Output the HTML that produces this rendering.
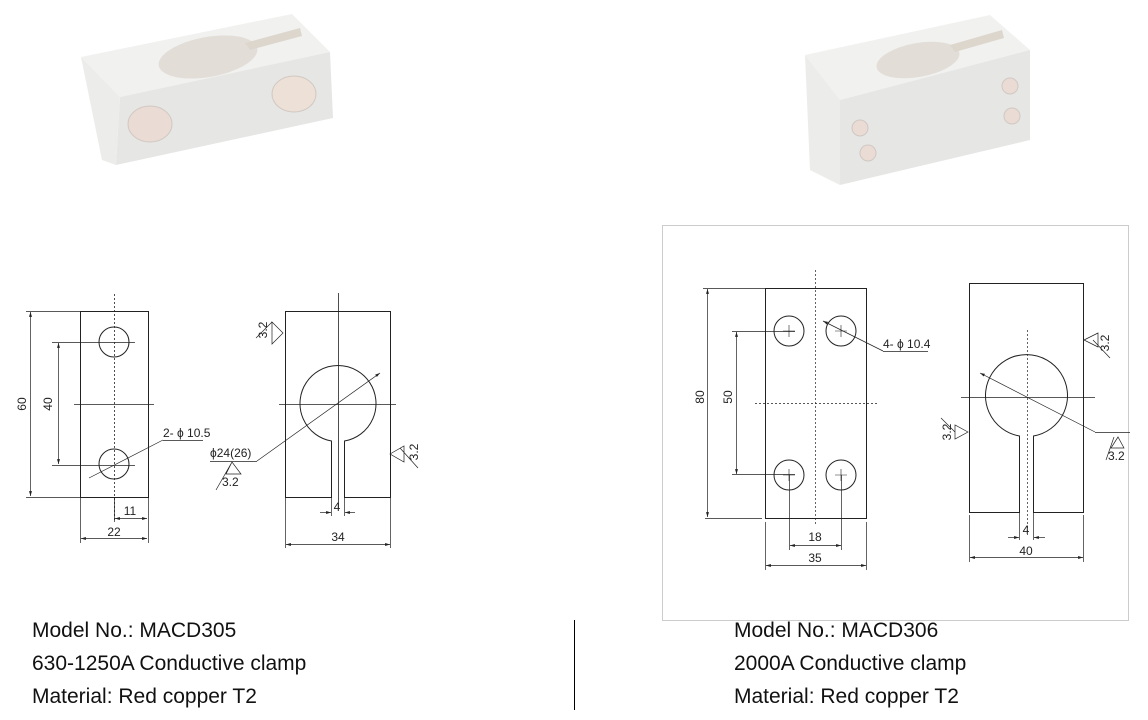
<!DOCTYPE html>
<html><head><meta charset="utf-8"><style>
html,body{margin:0;padding:0;background:#fff;width:1148px;height:720px;overflow:hidden}
svg{position:absolute;left:0;top:0}
.t{position:absolute;font-family:"Liberation Sans",sans-serif;font-size:21px;color:#111;white-space:nowrap}
</style></head><body>
<svg width="1148" height="720" viewBox="0 0 1148 720" font-family="Liberation Sans, sans-serif" font-size="12" fill="none" stroke="#222" stroke-width="1">
<defs><marker id="a" viewBox="0 0 10 10" refX="10" refY="5" markerWidth="7" markerHeight="7" orient="auto-start-reverse"><path d="M0,2 L10,5 L0,8 Z" fill="#222" stroke="none"/></marker></defs>
<!-- photo 1 -->
<polygon points="81,57 292,14 330,52 120,97" fill="#f1f1f0" stroke="none"/>
<polygon points="120,97 330,52 333,118 116,165" fill="#e6e6e5" stroke="none"/>
<polygon points="81,57 120,97 116,165 102,160" fill="#ececeb" stroke="none"/>
<ellipse cx="208" cy="57" rx="50" ry="20" fill="#e2ddd7" stroke="none" transform="rotate(-10 208 57)"/>
<polygon points="245,43 300,28 302,36 250,50" fill="#ddd6cd" stroke="none"/>
<ellipse cx="150" cy="124" rx="22" ry="18" fill="#eadbd4" stroke="#d0c8c2"/>
<ellipse cx="294" cy="94" rx="22" ry="18" fill="#ede0d6" stroke="#d0c8c2"/>
<!-- photo 2 -->
<polygon points="805,55 990,15 1030,50 840,100" fill="#f1f1f0" stroke="none"/>
<polygon points="840,100 1030,50 1030,140 840,185" fill="#e6e6e5" stroke="none"/>
<polygon points="805,55 840,100 840,185 810,170" fill="#ececeb" stroke="none"/>
<ellipse cx="918" cy="60" rx="42" ry="17" fill="#e2ddd7" stroke="none" transform="rotate(-10 918 60)"/>
<polygon points="950,45 1002,30 1004,38 955,52" fill="#ddd6cd" stroke="none"/>
<circle cx="860" cy="128" r="8" fill="#eadbd4" stroke="#d0c8c2"/>
<circle cx="868" cy="153" r="8" fill="#eadbd4" stroke="#d0c8c2"/>
<circle cx="1010" cy="86" r="8" fill="#eadbd4" stroke="#d0c8c2"/>
<circle cx="1012" cy="116" r="8" fill="#eadbd4" stroke="#d0c8c2"/>
<!-- right frame -->
<rect x="662.5" y="225.5" width="466" height="395" stroke="#ccc"/>
<line x1="574.5" y1="620" x2="574.5" y2="710" stroke="#000"/>

<!-- drawing 1 left -->
<rect x="80.5" y="311.5" width="68" height="186"/>
<line x1="114.5" y1="294" x2="114.5" y2="520" stroke-dasharray="2,2" stroke-width="0.8"/>
<line x1="74" y1="404.5" x2="154" y2="404.5" stroke-width="0.8"/>
<circle cx="114" cy="342" r="15"/><circle cx="114" cy="464" r="15"/>
<line x1="52" y1="342.5" x2="135" y2="342.5" stroke-width="0.7"/>
<line x1="52" y1="465.5" x2="135" y2="465.5" stroke-width="0.7"/>
<line x1="26" y1="311.5" x2="80" y2="311.5" stroke-width="0.7"/>
<line x1="26" y1="497.5" x2="80" y2="497.5" stroke-width="0.7"/>
<line x1="30.5" y1="312" x2="30.5" y2="496" stroke-width="0.7" marker-start="url(#a)" marker-end="url(#a)"/>
<line x1="58.5" y1="343" x2="58.5" y2="464" stroke-width="0.7" marker-start="url(#a)" marker-end="url(#a)"/>
<line x1="89" y1="478" x2="163" y2="440" stroke-width="0.7"/>
<line x1="163" y1="440.5" x2="203" y2="440.5" stroke-width="0.7"/>
<line x1="114.5" y1="497" x2="114.5" y2="522" stroke-width="0.7"/>
<line x1="148.5" y1="497" x2="148.5" y2="543" stroke-width="0.7"/>
<line x1="80.5" y1="497" x2="80.5" y2="543" stroke-width="0.7"/>
<line x1="115" y1="518.5" x2="147" y2="518.5" stroke-width="0.7" marker-start="url(#a)" marker-end="url(#a)"/>
<line x1="81" y1="538.5" x2="147" y2="538.5" stroke-width="0.7" marker-start="url(#a)" marker-end="url(#a)"/>
<g fill="#222" stroke="none">
<text x="22" y="408" transform="rotate(-90 22 404)" text-anchor="middle">60</text>
<text x="48" y="408" transform="rotate(-90 48 404)" text-anchor="middle">40</text>
<text x="163" y="437">2- ϕ 10.5</text>
<text x="130" y="515" text-anchor="middle">11</text>
<text x="114" y="536" text-anchor="middle">22</text>
</g>
<!-- drawing 1 right -->
<path d="M285.5,311.5 H390.5 V497.5 H344.5 V441 A38 38 0 1 0 331.5 441 V497.5 H285.5 Z"/>
<line x1="338.5" y1="293" x2="338.5" y2="508" stroke-width="0.8"/>
<line x1="279" y1="404.5" x2="396" y2="404.5" stroke-width="0.8"/>
<line x1="257" y1="461" x2="380" y2="373" stroke-width="0.7" marker-end="url(#a)"/>
<line x1="210" y1="461.5" x2="257" y2="461.5" stroke-width="0.7"/>
<path d="M232,462 L226,474 L241,474 Z M216,490 L232,462" stroke-width="0.7"/>
<path d="M256,338 L272,322 M272,322 L283,333 L272,344 Z" stroke-width="0.7"/>
<path d="M418,468 L400,448 M390,454 L404,446 L404,462 Z" stroke-width="0.7"/>
<line x1="331.5" y1="497" x2="331.5" y2="516" stroke-width="0.7"/>
<line x1="344.5" y1="497" x2="344.5" y2="516" stroke-width="0.7"/>
<line x1="320" y1="512.5" x2="331" y2="512.5" stroke-width="0.7" marker-end="url(#a)"/>
<line x1="355" y1="512.5" x2="345" y2="512.5" stroke-width="0.7" marker-end="url(#a)"/>
<line x1="285.5" y1="497" x2="285.5" y2="548" stroke-width="0.7"/>
<line x1="390.5" y1="497" x2="390.5" y2="548" stroke-width="0.7"/>
<line x1="286" y1="544.5" x2="390" y2="544.5" stroke-width="0.7" marker-start="url(#a)" marker-end="url(#a)"/>
<g fill="#222" stroke="none">
<text x="210" y="457">ϕ24(26)</text>
<text x="222" y="486">3.2</text>
<text x="263" y="334" transform="rotate(-90 263 330)" text-anchor="middle">3.2</text>
<text x="414" y="456" transform="rotate(-90 414 452)" text-anchor="middle">3.2</text>
<text x="337" y="511" text-anchor="middle">4</text>
<text x="338" y="541" text-anchor="middle">34</text>
</g>

<!-- drawing 2 left -->
<rect x="765.5" y="288.5" width="101" height="230"/>
<line x1="815.5" y1="270" x2="815.5" y2="525" stroke-dasharray="2,2" stroke-width="0.7"/>
<line x1="755" y1="403.5" x2="877" y2="403.5" stroke-dasharray="2,2" stroke-width="0.7"/>
<circle cx="789" cy="331" r="15"/><circle cx="841" cy="331" r="15"/>
<circle cx="789" cy="475" r="15"/><circle cx="841" cy="475" r="15"/>
<path d="M783,331H795M789,325V337M835,331H847M841,325V337M783,475H795M789,469V481M835,475H847M841,469V481" stroke-width="0.6"/>
<line x1="703" y1="288.5" x2="765" y2="288.5" stroke-width="0.7"/>
<line x1="705" y1="518.5" x2="762" y2="518.5" stroke-width="0.7"/>
<line x1="707.5" y1="289" x2="707.5" y2="517" stroke-width="0.7" marker-start="url(#a)" marker-end="url(#a)"/>
<line x1="732" y1="331.5" x2="795" y2="331.5" stroke-width="0.7"/>
<line x1="732" y1="474.5" x2="795" y2="474.5" stroke-width="0.7"/>
<line x1="736.5" y1="332" x2="736.5" y2="474" stroke-width="0.7" marker-start="url(#a)" marker-end="url(#a)"/>
<line x1="823" y1="321" x2="883" y2="351" stroke-width="0.7" marker-start="url(#a)"/>
<line x1="883" y1="351.5" x2="928" y2="351.5" stroke-width="0.7"/>
<line x1="789.5" y1="475" x2="789.5" y2="550" stroke-width="0.7"/>
<line x1="841.5" y1="475" x2="841.5" y2="550" stroke-width="0.7"/>
<line x1="790" y1="545.5" x2="841" y2="545.5" stroke-width="0.7" marker-start="url(#a)" marker-end="url(#a)"/>
<line x1="765.5" y1="522" x2="765.5" y2="570" stroke-width="0.7"/>
<line x1="866.5" y1="522" x2="866.5" y2="570" stroke-width="0.7"/>
<line x1="766" y1="565.5" x2="866" y2="565.5" stroke-width="0.7" marker-start="url(#a)" marker-end="url(#a)"/>
<g fill="#222" stroke="none">
<text x="700" y="401" transform="rotate(-90 700 397)" text-anchor="middle">80</text>
<text x="728" y="401" transform="rotate(-90 728 397)" text-anchor="middle">50</text>
<text x="883" y="348">4- ϕ 10.4</text>
<text x="815" y="541" text-anchor="middle">18</text>
<text x="815" y="562" text-anchor="middle">35</text>
</g>
<!-- drawing 2 right -->
<path d="M969.5,283.5 H1083.5 V512.5 H1033.5 V436 A41 41 0 1 0 1019.5 436 V512.5 H969.5 Z"/>
<line x1="1027.5" y1="330" x2="1027.5" y2="535" stroke-dasharray="2,2" stroke-width="0.7"/>
<line x1="961" y1="397.5" x2="1095" y2="397.5" stroke-width="0.8"/>
<line x1="980" y1="373" x2="1095" y2="432" stroke-width="0.7" marker-start="url(#a)"/>
<line x1="1095" y1="432.5" x2="1130" y2="432.5" stroke-width="0.7"/>
<path d="M1106,460 L1114,437 M1118,437 L1111,448 L1124,448 Z" stroke-width="0.7"/>
<path d="M1110,358 L1093,340 M1084,340 L1098,333 L1098,347 Z" stroke-width="0.7"/>
<path d="M941,418 L955,432 M968,432 L955,425 L955,439 Z" stroke-width="0.7"/>
<line x1="1019.5" y1="512" x2="1019.5" y2="540" stroke-width="0.7"/>
<line x1="1033.5" y1="512" x2="1033.5" y2="540" stroke-width="0.7"/>
<line x1="1008" y1="537.5" x2="1019" y2="537.5" stroke-width="0.7" marker-end="url(#a)"/>
<line x1="1045" y1="537.5" x2="1034" y2="537.5" stroke-width="0.7" marker-end="url(#a)"/>
<line x1="969.5" y1="515" x2="969.5" y2="562" stroke-width="0.7"/>
<line x1="1083.5" y1="515" x2="1083.5" y2="562" stroke-width="0.7"/>
<line x1="970" y1="557.5" x2="1083" y2="557.5" stroke-width="0.7" marker-start="url(#a)" marker-end="url(#a)"/>
<g fill="#222" stroke="none">
<text x="1108" y="460">3.2</text>
<text x="1105" y="347" transform="rotate(-90 1105 343)" text-anchor="middle">3.2</text>
<text x="947" y="436" transform="rotate(-90 947 432)" text-anchor="middle">3.2</text>
<text x="1026" y="534" text-anchor="middle">4</text>
<text x="1026" y="555" text-anchor="middle">40</text>
</g>
</svg>
<div class="t" style="left:32px;top:619px">Model No.: MACD305</div>
<div class="t" style="left:32px;top:652px">630-1250A Conductive clamp</div>
<div class="t" style="left:32px;top:685px">Material: Red copper T2</div>
<div class="t" style="left:734px;top:619px">Model No.: MACD306</div>
<div class="t" style="left:734px;top:652px">2000A Conductive clamp</div>
<div class="t" style="left:734px;top:685px">Material: Red copper T2</div>
</body></html>
